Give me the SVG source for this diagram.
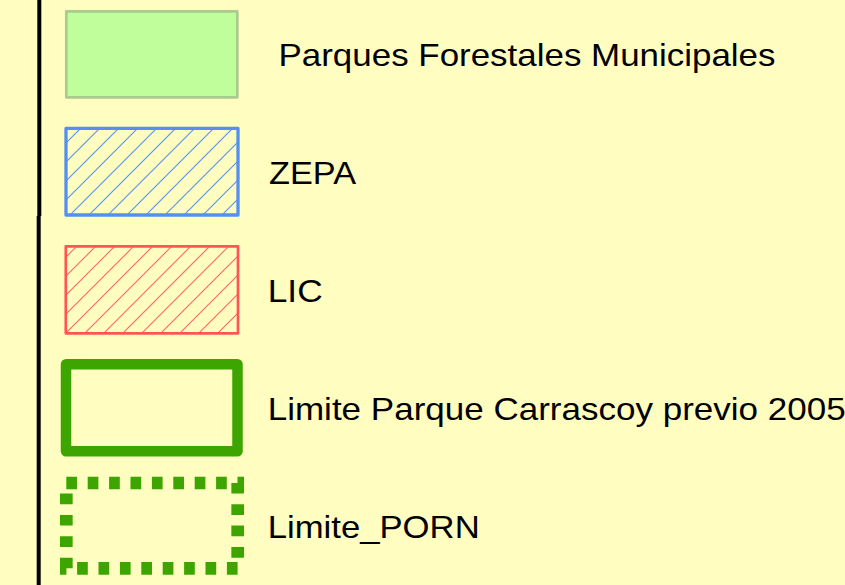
<svg xmlns="http://www.w3.org/2000/svg" width="845" height="585" viewBox="0 0 845 585">
<style>
text{font-family:"Liberation Sans",Arial,sans-serif;font-size:31.5px;fill:#000}
.box{stroke-linejoin:round}
</style>
<defs>
<pattern id="hb" patternUnits="userSpaceOnUse" width="19" height="19">
<path d="M-2,21 L21,-2 M-2,2 L2,-2 M17,21 L21,17" stroke="#5a96f0" stroke-width="1.2"/>
</pattern>
<pattern id="hr" patternUnits="userSpaceOnUse" width="19" height="19">
<path d="M-2,21 L21,-2 M-2,2 L2,-2 M17,21 L21,17" stroke="#ff6a6a" stroke-width="1.2"/>
</pattern>
</defs>
<rect width="845" height="585" fill="#fffdc0"/>
<g id="axis">
<line x1="39.3" y1="0" x2="39.3" y2="216" stroke="#000" stroke-width="4"/>
<line x1="38.7" y1="216" x2="38.7" y2="585" stroke="#000" stroke-width="4"/>
</g>
<g id="parques">
<rect class="box" x="66.3" y="11.3" width="171" height="86" fill="#bffe9a" stroke="#a9cb8f" stroke-width="2.7"/>
<text x="278.5" y="66" textLength="497" lengthAdjust="spacingAndGlyphs">Parques Forestales Municipales</text>
</g>
<g id="zepa">
<rect class="box" x="66" y="128.3" width="172" height="86.7" fill="url(#hb)" stroke="#5590f0" stroke-width="3.3"/>
<text x="269" y="184.3" textLength="87" lengthAdjust="spacingAndGlyphs">ZEPA</text>
</g>
<g id="lic">
<rect class="box" x="65.8" y="246.3" width="172.2" height="87" fill="url(#hr)" stroke="#ff5555" stroke-width="2.7"/>
<text x="267.7" y="302.3" textLength="55" lengthAdjust="spacingAndGlyphs">LIC</text>
</g>
<g id="carrascoy">
<rect class="box" x="66" y="364.3" width="171.5" height="87" fill="none" stroke="#3da500" stroke-width="10.5"/>
<text x="267.7" y="420.3" textLength="578" lengthAdjust="spacingAndGlyphs">Limite Parque Carrascoy previo 2005</text>
</g>
<g id="porn">
<rect x="66.3" y="483" width="171.4" height="85.3" fill="none" stroke="#3da500" stroke-width="12.7" stroke-dasharray="10.7 10.7"/>
<text x="267.7" y="537.7" textLength="212" lengthAdjust="spacingAndGlyphs">Limite_PORN</text>
</g>
<g id="connectors"/>
</svg>
